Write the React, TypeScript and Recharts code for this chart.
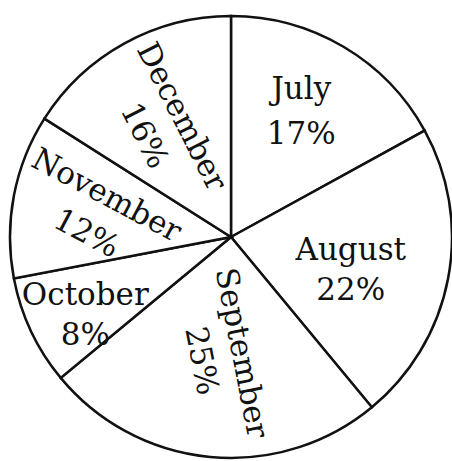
import React from 'react';
import { PieChart, Pie, Cell } from 'recharts';

const months = ['July', 'August', 'September', 'October', 'November', 'December'];
const shares = [17, 22, 25, 8, 12, 16];

const data = months.map((name, i) => ({ name, value: shares[i] }));

// label placement per slice: distance from centre, polar angle, text rotation, line gap
const LABEL_LAYOUT = [
  { r: 145, angle: 61, rotate: 0, gap: 45 },
  { r: 124, angle: -15, rotate: 0, gap: 40 },
  { r: 120, angle: -94, rotate: 79, gap: 41 },
  { r: 165, angle: -152, rotate: 0, gap: 40 },
  { r: 136, angle: 170, rotate: 28, gap: 43 },
  { r: 130, angle: 121, rotate: 63, gap: 42 },
];

const RAD = Math.PI / 180;

const renderLabel = (props: any) => {
  const { cx, cy, index, payload } = props;
  const l = LABEL_LAYOUT[index];
  const x = cx + l.r * Math.cos(l.angle * RAD);
  const y = cy - l.r * Math.sin(l.angle * RAD);
  const name = payload?.name ?? months[index];
  const value = payload?.value ?? shares[index];
  return (
    <g transform={`translate(${x},${y}) rotate(${l.rotate})`}>
      <text
        x={0}
        y={-l.gap / 2}
        textAnchor="middle"
        dominantBaseline="central"
        fontFamily="DejaVu Serif"
        fontSize={31}
        fill="#111"
      >
        {name}
      </text>
      <text
        x={0}
        y={l.gap / 2}
        textAnchor="middle"
        dominantBaseline="central"
        fontFamily="DejaVu Serif"
        fontSize={31}
        fill="#111"
      >
        {value}%
      </text>
    </g>
  );
};

const App = () => {
  return (
    <div style={{ position: 'absolute', left: 0, top: 0, background: '#fff' }}>
      <PieChart width={452} height={461} margin={{ top: 0, right: 0, bottom: 0, left: 0 }}>
        <Pie
          data={data}
          dataKey="value"
          cx={231}
          cy={237}
          outerRadius={221}
          startAngle={90}
          endAngle={-270}
          stroke="#111"
          strokeWidth={2.5}
          label={renderLabel}
          labelLine={false}
          isAnimationActive={false}
        >
          {data.map((entry, index) => (
            <Cell key={`cell-${index}`} fill="#fff" />
          ))}
        </Pie>
      </PieChart>
    </div>
  );
};

export default App;
